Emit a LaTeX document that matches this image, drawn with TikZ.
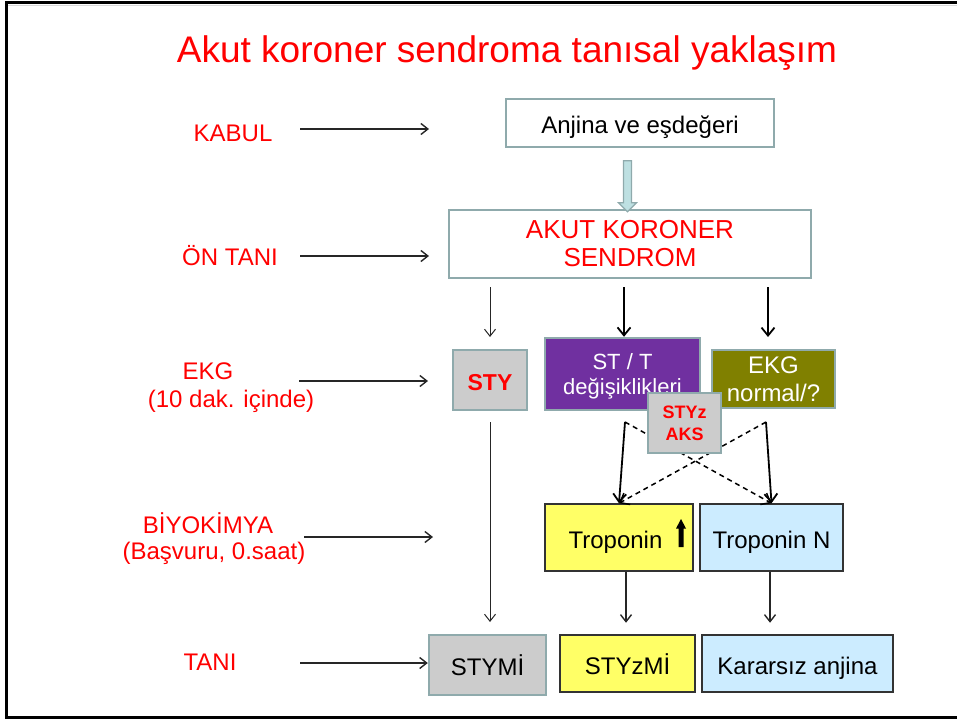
\documentclass[tikz,border=0pt]{standalone}
\usepackage{fontspec}
\setmainfont{Liberation Sans}
\usetikzlibrary{arrows.meta,calc}

\definecolor{acsred}{RGB}{255,0,0}
\definecolor{edgeteal}{RGB}{143,170,172}
\definecolor{boxgray}{RGB}{204,204,204}
\definecolor{stpurple}{RGB}{112,48,160}
\definecolor{ekgolive}{RGB}{128,128,0}
\definecolor{tropyellow}{RGB}{255,255,102}
\definecolor{tropblue}{RGB}{204,236,255}
\definecolor{hollowfill}{RGB}{190,224,226}

\begin{document}
\begin{tikzpicture}[x=1pt,y=-1pt,
  f24/.style={font=\fontsize{24pt}{28pt}\selectfont},
  f26/.style={font=\fontsize{26pt}{28pt}\selectfont},
  f22/.style={font=\fontsize{22pt}{25pt}\selectfont},
  fb23/.style={font=\fontsize{23pt}{27pt}\selectfont\bfseries},
  fb18/.style={font=\fontsize{18pt}{22pt}\selectfont\bfseries},
  lbl/.style={f24, text=acsred, inner sep=0pt, anchor=base},
  oneline/.style={text height=21pt, text depth=0pt},
  tealbox/.style={draw=edgeteal, line width=2.4pt, inner sep=0pt, align=center},
  darkbox/.style={draw=black!80, line width=1.5pt, inner sep=0pt, align=center},
  arr/.style={-{Straight Barb[length=7pt,width=11pt]}, line width=1.4pt, draw=black!85},
  thinarr/.style={-{Straight Barb[length=7pt,width=11pt]}, line width=1pt, draw=black!85},
  boldarr/.style={-{Straight Barb[length=8pt,width=13pt]}, line width=1.8pt, draw=black},
  dasharr/.style={-{Straight Barb[length=8pt,width=13pt]}, line width=1.5pt, draw=black, dash pattern=on 5pt off 4pt}
]
\useasboundingbox (0,0) rectangle (957,720);

% slide frame
\draw[black!15, line width=0.8pt] (8,5) -- (957,5);
\draw[line width=3pt] (957,2.5) -- (6,2.5) -- (6,717.5) -- (957,717.5);

% title
\node[font=\fontsize{37pt}{44pt}\selectfont, text=acsred, inner sep=0pt, anchor=base] (title) at (507,62) {Akut koroner sendroma tanısal yaklaşım};

% stage labels on the left
\node[lbl] (kabul) at (233,141) {KABUL};
\node[lbl] (ontani) at (230,265) {ÖN TANI};
\node[lbl] (ekg) at (208,379) {EKG};
\node[lbl] (ekgsub) at (231,407) {(10 dak. içinde)};
\node[lbl] (biyo) at (208,533) {BİYOKİMYA};
\node[lbl] (biyosub) at (214,559) {(Başvuru, 0.saat)};
\node[lbl] (tani) at (210,670) {TANI};

% flow boxes
\node[tealbox, f24, oneline, minimum width=268pt, minimum height=48pt] (anj) at (640,123) {Anjina ve eşdeğeri};
\node[tealbox, f26, text=acsred, minimum width=362pt, minimum height=68pt] (aks) at (630,244) {AKUT KORONER\\SENDROM};
\node[tealbox, fb23, oneline, text=acsred, fill=boxgray, minimum width=74pt, minimum height=60pt] (sty) at (490,380) {STY};
\node[tealbox, f22, text=white, fill=stpurple, minimum width=155pt, minimum height=72pt, text depth=0pt] (stt) at (622.5,374) {ST / T\\değişiklikleri};
\node[tealbox, f24, text=white, fill=ekgolive, minimum width=123pt, minimum height=58pt] (ekgn) at (773.5,379) {EKG\\normal/?};
\node[darkbox, f24, oneline, fill=tropyellow, minimum width=148pt, minimum height=67pt] (tropU) at (619,537.5) {Troponin\hspace{7pt}};
\node[darkbox, f24, oneline, fill=tropblue, minimum width=143pt, minimum height=67pt] (tropN) at (771.5,537.5) {Troponin N};
\node[tealbox, f24, oneline, fill=boxgray, minimum width=117pt, minimum height=60pt] (stymi) at (487.5,665) {STYMİ};
\node[darkbox, f24, oneline, fill=tropyellow, minimum width=135pt, minimum height=57pt] (styzmi) at (627.5,663.5) {STYzMİ};
\node[darkbox, f24, oneline, fill=tropblue, minimum width=191pt, minimum height=57pt] (karar) at (797.5,663.5) {Kararsız anjina};

% rising troponin mark
\fill[black, shift={(tropU.center)}] (62,-18.5) -- (67,-9) -- (64.5,-9) -- (64.5,9.5) -- (59.5,9.5) -- (59.5,-9) -- (57,-9) -- cycle;

% hollow arrow from complaint to syndrome
\filldraw[fill=hollowfill, draw=edgeteal, line width=1.2pt, shift={(aks.north)}]
  (-6.5,-48) -- (1.5,-48) -- (1.5,-6) -- (6.5,-6) -- (-2.5,3) -- (-11.5,-6) -- (-6.5,-6) -- cycle;

% arrows from the stage labels
\coordinate (k1) at (300,129);
\coordinate (o1) at (300,256);
\coordinate (e1) at (299,381);
\coordinate (b1) at (304,537);
\coordinate (t1) at (300,663);
\draw[arr] (k1) -- ++(129,0);
\draw[arr] (o1) -- ++(129,0);
\draw[arr] (e1) -- ++(129,0);
\draw[arr] (b1) -- ++(129,0);
\draw[arr] (t1) -- (t1 -| stymi.west);

% arrows from the syndrome box to the ECG findings
\coordinate (a1) at (490,287);
\coordinate (a2) at (624,287);
\coordinate (a3) at (768,287);
\draw[thinarr] (a1) -- ++(0,50);
\draw[boldarr] (a2) -- (a2 |- stt.north);
\draw[boldarr] (a3) -- ++(0,50);

% ST elevation straight to diagnosis
\coordinate (s1) at (490,422);
\draw[thinarr] (s1) -- ++(0,200);

% crossing paths from the ECG findings to troponin
\coordinate (c1) at (625,422);
\coordinate (c2) at (766,422);
\draw[boldarr] (c1) -- (tropU.north);
\draw[boldarr] (c2) -- (tropN.north);
\draw[dasharr] (c1) -- (tropN.north);
\draw[dasharr] (c2) -- (tropU.north);

% troponin to diagnosis
\draw[arr] ($(tropU.south)+(7,0)$) -- ++(0,51);
\draw[arr] ($(tropN.south)+(-1.5,0)$) -- ++(0,51);

% NSTE-ACS box drawn over the crossing paths
\node[tealbox, fb18, text=acsred, fill=boxgray, minimum width=73pt, minimum height=60pt] (styz) at (684.5,423) {STYz\\AKS};
\end{tikzpicture}
\end{document}
